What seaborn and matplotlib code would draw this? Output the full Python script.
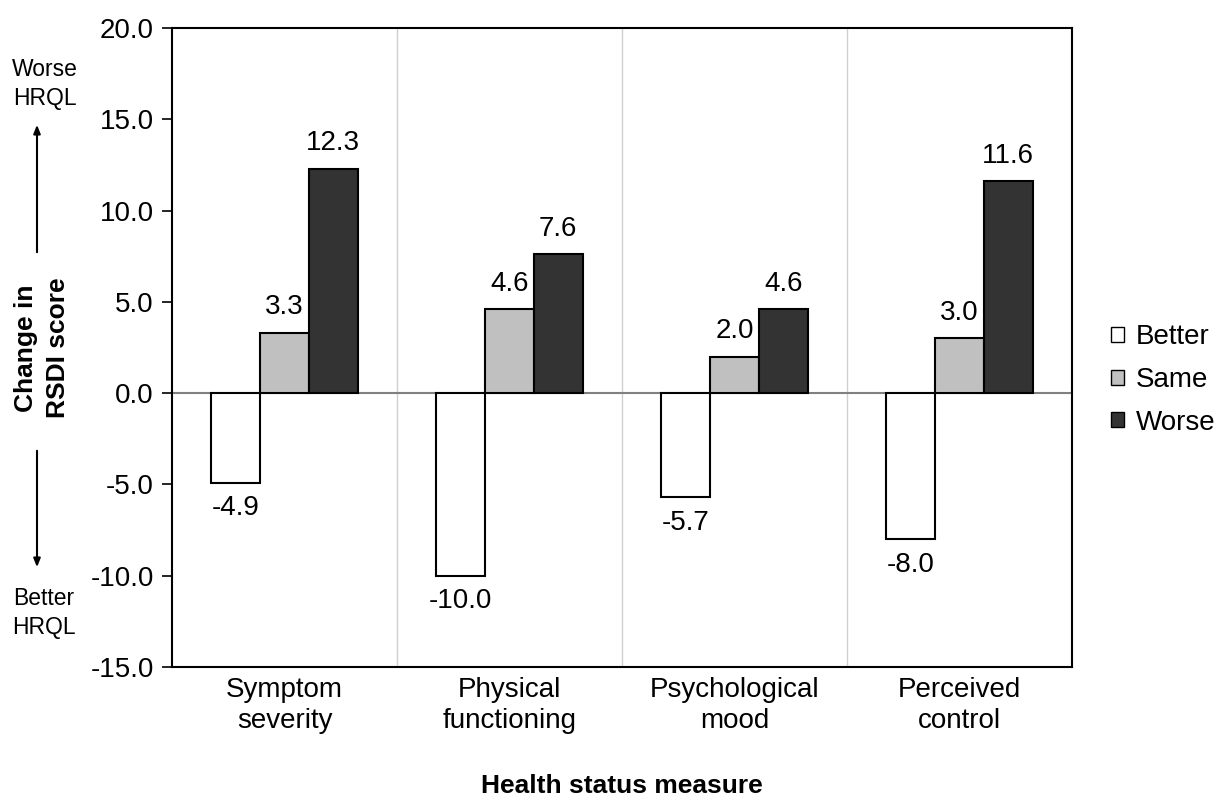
import pandas as pd
import matplotlib.pyplot as plt
import seaborn as sns
from matplotlib.ticker import FormatStrFormatter

# Data
measures = ["Symptom\nseverity", "Physical\nfunctioning", "Psychological\nmood", "Perceived\ncontrol"]
groups = ["Better", "Same", "Worse"]
better = [-4.9, -10.0, -5.7, -8.0]
same = [3.3, 4.6, 2.0, 3.0]
worse = [12.3, 7.6, 4.6, 11.6]
colors = ["#ffffff", "#c0c0c0", "#333333"]

df = pd.DataFrame({
    "measure": measures * 3,
    "group": [g for g in groups for _ in measures],
    "value": better + same + worse,
})

sns.set_style("white")
plt.rcParams["font.family"] = ["Liberation Sans", "DejaVu Sans"]
plt.rcParams.update({"text.color": "black", "axes.labelcolor": "black",
                     "xtick.color": "black", "ytick.color": "black"})

fig = plt.figure(figsize=(12.16, 8), dpi=100)
ax = fig.add_axes([172 / 1216, 1 - 667 / 800, 900 / 1216, 639 / 800])

sns.barplot(data=df, x="measure", y="value", hue="group", hue_order=groups,
            palette=colors, edgecolor="black", linewidth=1.5, width=0.65,
            ax=ax, zorder=2)

# Bar value labels
for cont in ax.containers:
    ax.bar_label(cont, fmt="%.1f", padding=9, fontsize=20, color="black")

ax.axhline(0, color="#808080", lw=1.5, zorder=1)
ax.set_ylim(-15, 20)
ax.set_yticks(range(-15, 21, 5))
ax.yaxis.set_major_formatter(FormatStrFormatter("%.1f"))
ax.set_xlim(-0.5, 3.5)

# Category separators
ax.set_xticks([0.5, 1.5, 2.5], minor=True)
ax.grid(axis="x", which="minor", color="#d0d0d0", lw=1)
ax.grid(axis="x", which="major", visible=False)
ax.tick_params(axis="x", which="both", length=0, labelsize=20, pad=7)
ax.tick_params(axis="y", length=7, width=1.2, direction="out", labelsize=20, pad=6, left=True)
for lab in ax.get_xticklabels():
    lab.set_linespacing(1.25)

for sp in ax.spines.values():
    sp.set_color("black")
    sp.set_linewidth(1.5)

ax.set_xlabel("Health status measure", fontsize=19, fontweight="bold", labelpad=29)
ax.set_ylabel("Change in\nRSDI score", fontsize=19, fontweight="bold", va="center", linespacing=1.45)
ax.yaxis.set_label_coords((42 - 172) / 900, (667 - 348) / 639)

# Legend
handles, labels = ax.get_legend_handles_labels()
for h in handles:
    h.set_edgecolor("black")
    h.set_linewidth(1)
ax.legend(handles, labels, loc="center left", bbox_to_anchor=(1086 / 1216, 1 - 380 / 800),
          bbox_transform=fig.transFigure, frameon=False, fontsize=20,
          handlelength=0.45, handleheight=0.45, handletextpad=0.45, labelspacing=0.6)

# Direction hints on the left
fig.text(45 / 1216, 1 - 84 / 800, "Worse\nHRQL", ha="center", va="center", fontsize=16.5, linespacing=1.35)
fig.text(44 / 1216, 1 - 613 / 800, "Better\nHRQL", ha="center", va="center", fontsize=16.5, linespacing=1.35)
arrow = dict(arrowstyle="-|>,head_length=0.5,head_width=0.2", color="black", lw=1.5)
ax.annotate("", xy=(37 / 1216, 1 - 122 / 800), xytext=(37 / 1216, 1 - 255 / 800),
            xycoords="figure fraction", textcoords="figure fraction", arrowprops=arrow,
            annotation_clip=False)
ax.annotate("", xy=(37 / 1216, 1 - 570 / 800), xytext=(37 / 1216, 1 - 448 / 800),
            xycoords="figure fraction", textcoords="figure fraction", arrowprops=arrow,
            annotation_clip=False)

fig.savefig("out.png", dpi=100)
